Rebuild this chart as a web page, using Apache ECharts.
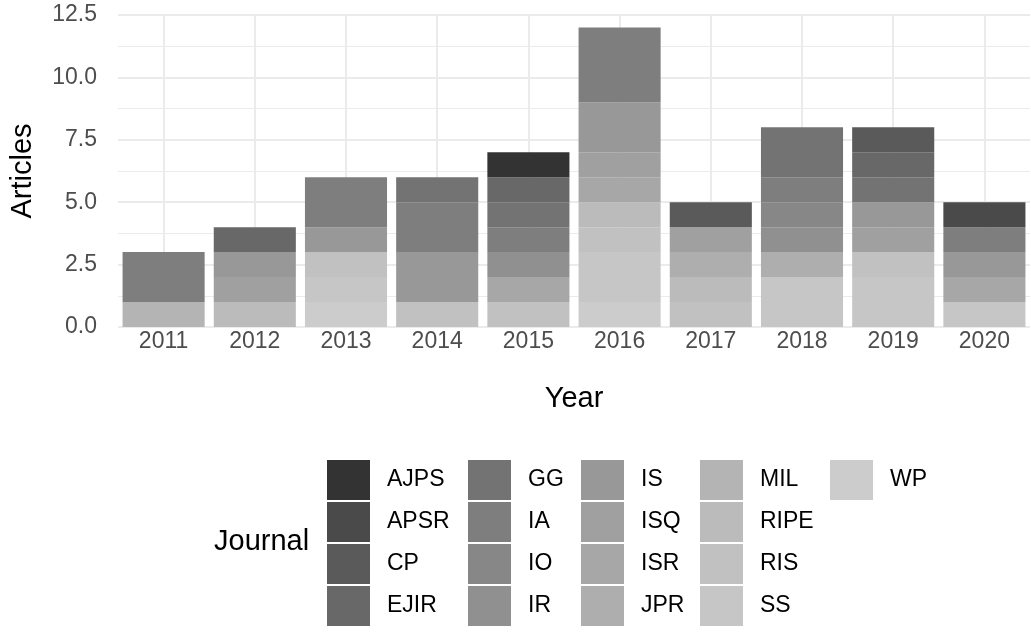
<!DOCTYPE html>
<html>
<head>
<meta charset="utf-8">
<script src="https://cdn.jsdelivr.net/npm/echarts@6/dist/echarts.min.js"></script>
<style>
  html, body { margin: 0; padding: 0; background: #fff; }
  #chart { width: 1031px; height: 640px; }
</style>
</head>
<body>
<div id="chart"></div>
<script>
// years on the x axis
var years = ['2011', '2012', '2013', '2014', '2015', '2016', '2017', '2018', '2019', '2020'];
var yTicks = [0, 2.5, 5, 7.5, 10, 12.5];

// articles per journal and year
var AJPS = [0, 0, 0, 0, 1, 0, 0, 0, 0, 0];
var APSR = [0, 0, 0, 0, 0, 0, 0, 0, 0, 1];
var CP   = [0, 0, 0, 0, 0, 0, 1, 0, 1, 0];
var EJIR = [0, 1, 0, 0, 1, 0, 0, 0, 1, 0];
var GG   = [0, 0, 0, 1, 1, 0, 0, 2, 1, 0];
var IA   = [2, 0, 2, 2, 1, 3, 0, 1, 0, 1];
var IO   = [0, 0, 0, 0, 0, 0, 0, 1, 0, 0];
var IR   = [0, 0, 0, 0, 1, 0, 0, 1, 0, 0];
var IS   = [0, 1, 1, 2, 0, 2, 0, 0, 1, 1];
var ISQ  = [0, 1, 0, 0, 0, 1, 1, 0, 1, 0];
var ISR  = [0, 0, 0, 0, 1, 1, 0, 0, 0, 1];
var JPR  = [0, 0, 0, 0, 0, 0, 1, 1, 0, 0];
var MIL  = [1, 0, 0, 0, 0, 0, 0, 0, 0, 0];
var RIPE = [0, 1, 0, 0, 0, 1, 1, 0, 0, 0];
var RIS  = [0, 0, 1, 1, 1, 1, 1, 0, 1, 0];
var SS   = [0, 0, 1, 0, 0, 2, 0, 2, 2, 1];
var WP   = [0, 0, 1, 0, 0, 1, 0, 0, 0, 0];

var journals = ['AJPS', 'APSR', 'CP', 'EJIR', 'GG', 'IA', 'IO', 'IR', 'IS',
                'ISQ', 'ISR', 'JPR', 'MIL', 'RIPE', 'RIS', 'SS', 'WP'];
var values = [AJPS, APSR, CP, EJIR, GG, IA, IO, IR, IS, ISQ, ISR, JPR, MIL, RIPE, RIS, SS, WP];

// grey scale, dark -> light
var greys = ['#333333', '#4a4a4a', '#5a5a5a', '#686868', '#737373', '#7e7e7e', '#878787',
             '#909090', '#989898', '#a0a0a0', '#a7a7a7', '#aeaeae', '#b4b4b4', '#bbbbbb',
             '#c1c1c1', '#c6c6c6', '#cccccc'];

var font = '"Liberation Sans", Arial, sans-serif';

// first series sits at the bottom of the stack, so go WP -> AJPS
var series = [];
for (var i = journals.length - 1; i >= 0; i--) {
    series.push({
        name: journals[i],
        type: 'bar',
        stack: 'total',
        barWidth: '90%',
        color: greys[i],
        itemStyle: { color: greys[i] },
        emphasis: { disabled: true },
        data: values[i]
    });
}

// legend laid out by column, 4 rows each
var legendCols = [327, 468, 581, 700, 830];
var legends = [];
for (var c = 0; c < legendCols.length; c++) {
    legends.push({
        orient: 'vertical',
        left: legendCols[c],
        top: 460,
        icon: 'rect',
        itemWidth: 43,
        itemHeight: 40,
        itemGap: 2,
        padding: 0,
        selectedMode: false,
        textStyle: { fontSize: 23, color: '#000', fontFamily: font, padding: [0, 0, 0, 12] },
        data: journals.slice(c * 4, c * 4 + 4)
    });
}

var myChart = echarts.init(document.getElementById('chart'));
var option = {
    animation: false,
    textStyle: { fontFamily: font },
    title: {
        text: 'Journal',
        left: 214,
        top: 527,
        padding: 0,
        textStyle: { fontSize: 29, fontWeight: 'normal', color: '#000', fontFamily: font }
    },
    legend: legends,
    grid: { left: 116, width: 914, top: 15, height: 312, containLabel: false },
    xAxis: [
        {
            type: 'category',
            data: years,
            name: 'Year',
            nameLocation: 'middle',
            nameGap: 57,
            nameTextStyle: { fontSize: 29, color: '#000' },
            axisLine: { show: false },
            axisTick: { show: false },
            axisLabel: { fontSize: 23, color: '#4d4d4d', margin: 3 },
            splitLine: { show: false }
        },
        {
            // only used for the vertical grid lines at the bar centres
            type: 'value',
            position: 'top',
            min: 0,
            max: 10,
            interval: 1,
            axisLine: { show: false },
            axisTick: { show: false },
            axisLabel: { show: false },
            splitLine: { show: false },
            minorTick: { show: false, splitNumber: 2 },
            minorSplitLine: { show: true, lineStyle: { color: '#ebebeb', width: 2 } }
        }
    ],
    yAxis: {
        type: 'value',
        min: yTicks[0],
        max: yTicks[yTicks.length - 1],
        interval: 2.5,
        name: 'Articles',
        nameLocation: 'middle',
        nameGap: 81,
        nameTextStyle: { fontSize: 29, color: '#000' },
        axisLine: { show: false },
        axisTick: { show: false },
        axisLabel: {
            fontSize: 23, color: '#4d4d4d', margin: 21,
            formatter: function (v) { return v.toFixed(1); }
        },
        splitLine: { show: true, lineStyle: { color: '#ebebeb', width: 2 } },
        minorTick: { show: false, splitNumber: 2 },
        minorSplitLine: { show: true, lineStyle: { color: '#ebebeb', width: 1 } }
    },
    series: series
};
myChart.setOption(option);
</script>
</body>
</html>
